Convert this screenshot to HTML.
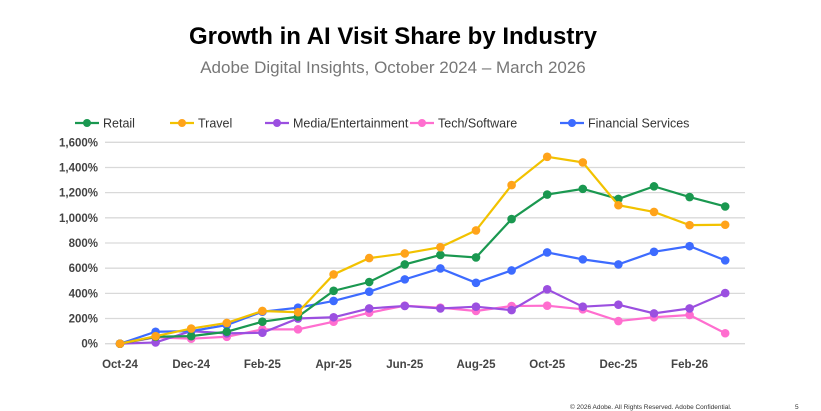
<!DOCTYPE html>
<html><head><meta charset="utf-8"><style>
body{margin:0;background:#fff;font-family:"Liberation Sans",sans-serif}
svg{display:block}
</style></head><body>
<svg id="c" width="821" height="411">
<text x="393" y="44" text-anchor="middle" font-size="24" font-weight="bold" fill="#000">Growth in AI Visit Share by Industry</text>
<text x="393" y="73" text-anchor="middle" font-size="17" fill="#777">Adobe Digital Insights, October 2024 – March 2026</text>
<text x="570" y="409" font-size="6.5" fill="#333">© 2026 Adobe. All Rights Reserved. Adobe Confidential.</text>
<text x="795" y="409" font-size="6.5" fill="#333">5</text>
</svg>
<script>
const months=["Oct-24","Nov-24","Dec-24","Jan-25","Feb-25","Mar-25","Apr-25","May-25","Jun-25","Jul-25","Aug-25","Sep-25","Oct-25","Nov-25","Dec-25","Jan-26","Feb-26","Mar-26"];
const yTicks=[0,200,400,600,800,1000,1200,1400,1600];
const seriesNames=["Retail","Travel","Media/Entertainment","Tech/Software","Financial Services"];
const retail=[0,55,60,95,175,215,420,490,630,705,685,990,1185,1230,1150,1250,1165,1090];
const travel=[0,60,120,165,260,250,550,680,717,767,900,1260,1485,1440,1100,1047,942,945];
const media=[0,10,100,82,87,200,210,280,300,280,294,267,432,294,310,241,280,402];
const tech=[0,50,40,55,114,114,175,246,302,286,260,299,302,273,180,210,228,83];
const financial=[0,95,100,148,254,286,340,413,511,598,484,582,725,670,630,730,775,662];
const ns="http://www.w3.org/2000/svg";
const svg=document.getElementById('c');
const x0=120,dx=35.6,yBase=343.7,yTop=142.3;
const X=i=>x0+i*dx;
const Y=v=>yBase-(v/1600)*(yBase-yTop);
function mk(t,a){const e=document.createElementNS(ns,t);for(const k in a)e.setAttribute(k,a[k]);svg.appendChild(e);return e;}
yTicks.forEach(v=>{
 const g=mk('line',{x1:105,x2:745,y1:Y(v),y2:Y(v),stroke:'#d9d9d9','stroke-width':1.3});
 
 
 const t=mk('text',{x:98,y:Y(v)+4,'text-anchor':'end','font-size':11.5,'font-weight':'bold',fill:'#444'});
 t.textContent=v.toLocaleString('en-US')+'%';
 
 
});
months.forEach((m,i)=>{if(i%2)return;
 const t=mk('text',{x:X(i),y:368,'text-anchor':'middle','font-size':11.5,'font-weight':'bold',fill:'#444'});
 t.textContent=m;
 
 
});
const data=[retail,travel,media,tech,financial];
const lineC=["#1a9850","#f2c200","#9b4fe0","#ff6ecf","#3d6bff"];
const dotC=["#1a9850","#ffa31a","#9b4fe0","#ff6ecf","#3d6bff"];
const order=[3,2,4,0,1];
order.forEach(s=>{
 const pts=data[s].map((v,i)=>X(i)+','+Y(v)).join(' ');
 const p=mk('polyline',{points:pts,fill:'none',stroke:lineC[s],'stroke-width':2.2});
 
 
 data[s].forEach((v,i)=>{
  const c=mk('circle',{cx:X(i),cy:Y(v),r:4.3,fill:dotC[s]});
  
  
 });
});
const legX=[75,170,265,410,560];
seriesNames.forEach((n,s)=>{
 const l=mk('line',{x1:legX[s],x2:legX[s]+24,y1:123,y2:123,stroke:lineC[s],'stroke-width':2.2});
 
 
 const c=mk('circle',{cx:legX[s]+12,cy:123,r:4,fill:dotC[s]});
 
 
 const t=mk('text',{x:legX[s]+28,y:127.5,'font-size':12.5,fill:'#333'});
 t.textContent=n;
 
 
});
</script>
</body></html>
